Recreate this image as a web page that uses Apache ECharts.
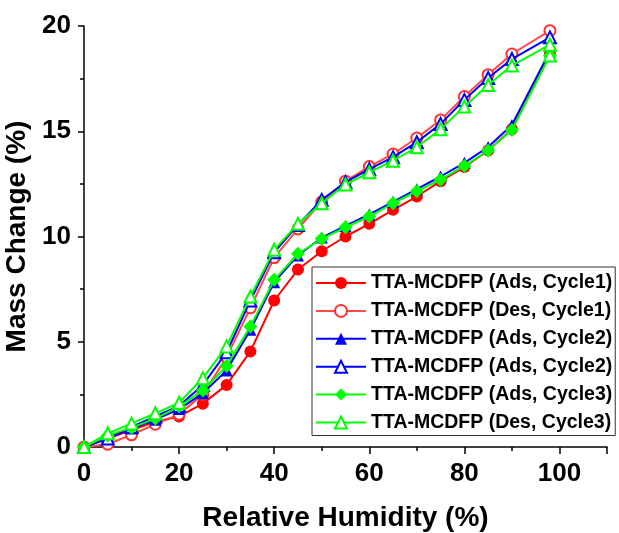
<!DOCTYPE html>
<html>
<head>
<meta charset="utf-8">
<script src="https://cdn.jsdelivr.net/npm/echarts@6/dist/echarts.min.js"></script>
<style>
html,body{margin:0;padding:0;background:#fff;}
#chart{width:619px;height:533px;}
</style>
</head>
<body>
<div id="chart"></div>
<script>
// Relative humidity (%) values
const rh = [0, 5, 10, 15, 20, 25, 30, 35, 40, 45, 50, 55, 60, 65, 70, 75, 80, 85, 90, 98];
// Mass change (%) per series
const adsCycle1 = [0, 0.4, 0.8, 1.2, 1.45, 2.06, 2.95, 4.54, 6.96, 8.43, 9.3, 10.0, 10.6, 11.27, 11.9, 12.63, 13.3, 14.08, 15.1, 18.67];
const desCycle1 = [0, 0.13, 0.58, 1.08, 1.55, 2.5, 4.27, 6.61, 9.0, 10.36, 11.65, 12.63, 13.32, 13.92, 14.68, 15.54, 16.65, 17.69, 18.67, 19.78];
const adsCycle2 = [0, 0.45, 0.88, 1.3, 1.8, 2.55, 3.64, 5.57, 7.83, 9.1, 9.95, 10.5, 11.05, 11.65, 12.25, 12.85, 13.5, 14.25, 15.3, 18.8];
const desCycle2 = [0, 0.4, 0.95, 1.45, 1.95, 2.95, 4.5, 6.96, 9.25, 10.55, 11.74, 12.58, 13.2, 13.77, 14.48, 15.35, 16.49, 17.53, 18.43, 19.46];
const adsCycle3 = [0, 0.55, 0.92, 1.35, 1.93, 2.68, 3.85, 5.73, 7.94, 9.18, 9.89, 10.44, 10.95, 11.58, 12.15, 12.7, 13.35, 14.08, 15.06, 18.6];
const desCycle3 = [0, 0.65, 1.12, 1.6, 2.1, 3.27, 4.78, 7.15, 9.37, 10.6, 11.58, 12.47, 13.05, 13.6, 14.24, 15.1, 16.17, 17.2, 18.12, 19.11];
// desorption cycle 3 start point at top RH
const desCycle3StartRh = [98];
const desCycle3Start = [18.6];

const seriesNames = [
  'TTA-MCDFP (Ads, Cycle1)',
  'TTA-MCDFP (Des, Cycle1)',
  'TTA-MCDFP (Ads, Cycle2)',
  'TTA-MCDFP (Ads, Cycle2) ',
  'TTA-MCDFP (Ads, Cycle3)',
  'TTA-MCDFP (Des, Cycle3)'
];
const xTicks = [0, 20, 40, 60, 80, 100];
const yTicks = [0, 5, 10, 15, 20];

function pairs(xs, ys) { return xs.map((x, i) => [x, ys[i]]); }

const FONT = '"Liberation Sans", Arial, sans-serif';

function mk(name, data, color, symbol, size, lineColor, z) {
  const empty = symbol.indexOf('empty') === 0;
  return {
    name: name,
    type: 'line',
    data: data,
    symbol: symbol,
    symbolSize: size,
    showAllSymbol: true,
    z: z,
    lineStyle: { color: lineColor || color, width: 2 },
    itemStyle: empty ? { color: color, borderColor: color, borderWidth: 1.3 } : { color: color, borderWidth: 0 },
    emphasis: { disabled: true },
    animation: false
  };
}

const desC3Data = pairs(desCycle3StartRh, desCycle3Start).concat(pairs(rh, desCycle3).reverse());

const chart = echarts.init(document.getElementById('chart'), null, { renderer: 'canvas' });
chart.setOption({
  backgroundColor: '#fff',
  animation: false,
  grid: { left: 84, right: 12, top: 26, bottom: 86, containLabel: false, outerBoundsMode: 'none' },
  legend: {
    orient: 'vertical',
    left: 312,
    top: 267,
    padding: [6, 3, 3, 3],
    itemWidth: 50,
    itemHeight: 15,
    itemGap: 7.9,
    borderColor: '#333',
    borderWidth: 1,
    backgroundColor: '#fff',
    data: seriesNames,
    formatter: n => n.trim(),
    textStyle: { fontFamily: FONT, fontWeight: 'bold', fontSize: 19.5, color: '#000', lineHeight: 20 }
  },
  xAxis: {
    type: 'value',
    min: 0, max: 110, interval: 20,
    name: 'Relative Humidity (%)',
    nameLocation: 'middle',
    nameGap: 57,
    nameTextStyle: { fontFamily: FONT, fontWeight: 'bold', fontSize: 28, color: '#000' },
    axisLine: { lineStyle: { color: '#000', width: 1.5 } },
    axisTick: { show: true, inside: false, length: 7, lineStyle: { color: '#000', width: 1.5 } },
    minorTick: { show: true, splitNumber: 2, length: 4, lineStyle: { color: '#000', width: 1.5 } },
    splitLine: { show: false },
    axisLabel: {
      margin: 14,
      fontFamily: FONT, fontWeight: 'bold', fontSize: 26, color: '#000',
      formatter: v => (xTicks.indexOf(v) >= 0 ? String(v) : '')
    }
  },
  yAxis: {
    type: 'value',
    min: 0, max: 20, interval: 5,
    name: 'Mass Change (%)',
    nameLocation: 'middle',
    nameGap: 48,
    nameTextStyle: { fontFamily: FONT, fontWeight: 'bold', fontSize: 28, color: '#000' },
    axisLine: { show: true, lineStyle: { color: '#000', width: 1.5 } },
    axisTick: { show: true, inside: false, length: 6, lineStyle: { color: '#000', width: 1.5 } },
    minorTick: { show: true, splitNumber: 2, length: 4, lineStyle: { color: '#000', width: 1.5 } },
    splitLine: { show: false },
    axisLabel: {
      margin: 13,
      fontFamily: FONT, fontWeight: 'bold', fontSize: 26, color: '#000',
      formatter: v => (yTicks.indexOf(v) >= 0 ? String(v) : '')
    }
  },
  series: [
    mk(seriesNames[0], pairs(rh, adsCycle1), '#ff0000', 'circle', 12, '#ff0000', 2),
    mk(seriesNames[1], pairs(rh, desCycle1).reverse(), '#ff3030', 'emptyCircle', 11, '#ff4848', 3),
    mk(seriesNames[2], pairs(rh, adsCycle2), '#0000ff', 'triangle', 12, '#0000ff', 4),
    mk(seriesNames[3], pairs(rh, desCycle2).reverse(), '#0000ff', 'emptyTriangle', 12, '#0000ff', 5),
    mk(seriesNames[4], pairs(rh, adsCycle3), '#00ff00', 'diamond', 14, '#00ff00', 6),
    mk(seriesNames[5], desC3Data, '#00ff00', 'emptyTriangle', 12, '#00ff00', 7)
  ]
});
</script>
</body>
</html>
